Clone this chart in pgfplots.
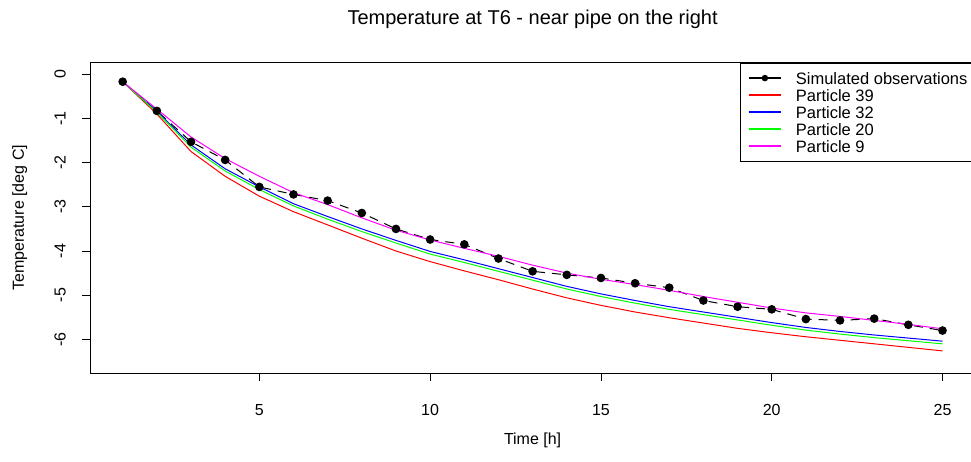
\documentclass[border=0pt]{standalone}
\usepackage{pgfplots}
\pgfplotsset{compat=1.18}
\usepackage{fontspec}
\setmainfont{Liberation Sans}
\definecolor{rred}{RGB}{255,0,0}
\definecolor{rblue}{RGB}{0,0,255}
\definecolor{rgreen}{RGB}{0,255,0}
\definecolor{rmag}{RGB}{255,0,255}
\begin{document}
\begin{tikzpicture}
\begin{axis}[
  at={(89.9pt,-62.7pt)}, anchor=north west,
  scale only axis, width=885.4pt, height=310.3pt,
  xmin=0.04, xmax=25.96, ymin=-6.76, ymax=0.26,
  xtick={5,10,15,20,25}, ytick={-6,-5,-4,-3,-2,-1,0},
  tick pos=left, tick align=outside, major tick length=8pt,
  every tick/.style={black, line width=0.8pt},
  axis line style={black, line width=0.8pt},
  /pgf/number format/assume math mode=true,
  tick label style={font=\fontsize{16}{16}\selectfont},
  xticklabel style={anchor=north, inner sep=0pt},
  xticklabel shift=23pt,
  yticklabel style={rotate=90, anchor=south, inner sep=0pt},
  yticklabel shift=16pt,
  xlabel={Time [h]},
  ylabel={Temperature [deg C]},
  label style={font=\fontsize{16}{16}\selectfont},
  xlabel style={at={(axis description cs:0.5,0)}, anchor=center, yshift=-67pt},
  ylabel style={at={(axis description cs:-0.0791,0.5)}, anchor=center},
  title={Temperature at T6 - near pipe on the right},
  title style={font=\fontsize{20}{20}\selectfont, at={(axis description cs:0.5,1)}, anchor=center, yshift=37pt},
  legend image code/.code={\draw[mark repeat=2,mark phase=2,#1,line width=2pt] plot coordinates {(0pt,0pt) (16pt,0pt) (32pt,0pt)};},
  legend cell align=left,
  legend style={at={(rel axis cs:1,1)}, anchor=north east, draw=black, line width=0.8pt, fill=white,
    font=\fontsize{16.5}{16.5}\selectfont, inner xsep=7.5pt, inner ysep=6.5pt, row sep=0pt, column sep=14pt,
    nodes={inner sep=0pt, text height=15pt, text depth=2pt}},
]
\addlegendimage{black, solid, mark=*, mark size=2.2pt}
\addlegendentry{Simulated observations}
\addplot[forget plot, black, line width=1pt, dash pattern=on 9pt off 7pt, mark=*, mark size=3.8pt, mark options={solid, fill=black}] coordinates {
(1,-0.17) (2,-0.83) (3,-1.53) (4,-1.94) (5,-2.55) (6,-2.72) (7,-2.86) (8,-3.14) (9,-3.50) (10,-3.74)
(11,-3.85) (12,-4.17) (13,-4.46) (14,-4.54) (15,-4.61) (16,-4.73) (17,-4.83) (18,-5.12) (19,-5.26) (20,-5.32)
(21,-5.54) (22,-5.57) (23,-5.53) (24,-5.67) (25,-5.80)};
\addplot[rred, line width=1pt] coordinates {
(1,-0.17) (2,-0.90) (3,-1.75) (4,-2.31) (5,-2.76) (6,-3.11) (7,-3.41) (8,-3.71) (9,-4.00) (10,-4.24)
(11,-4.45) (12,-4.65) (13,-4.86) (14,-5.06) (15,-5.23) (16,-5.38) (17,-5.51) (18,-5.63) (19,-5.75) (20,-5.85)
(21,-5.94) (22,-6.02) (23,-6.10) (24,-6.18) (25,-6.26)};
\addlegendentry{Particle 39}
\addplot[rblue, line width=1pt] coordinates {
(1,-0.17) (2,-0.84) (3,-1.60) (4,-2.14) (5,-2.55) (6,-2.93) (7,-3.22) (8,-3.50) (9,-3.76) (10,-4.01)
(11,-4.20) (12,-4.40) (13,-4.60) (14,-4.80) (15,-4.97) (16,-5.12) (17,-5.26) (18,-5.38) (19,-5.50) (20,-5.62)
(21,-5.73) (22,-5.82) (23,-5.90) (24,-5.97) (25,-6.04)};
\addlegendentry{Particle 32}
\addplot[rgreen, line width=1pt] coordinates {
(1,-0.17) (2,-0.86) (3,-1.65) (4,-2.19) (5,-2.61) (6,-2.98) (7,-3.28) (8,-3.56) (9,-3.82) (10,-4.07)
(11,-4.26) (12,-4.46) (13,-4.66) (14,-4.86) (15,-5.03) (16,-5.18) (17,-5.32) (18,-5.44) (19,-5.56) (20,-5.68)
(21,-5.79) (22,-5.88) (23,-5.96) (24,-6.03) (25,-6.10)};
\addlegendentry{Particle 20}
\addplot[rmag, line width=1pt] coordinates {
(1,-0.17) (2,-0.79) (3,-1.42) (4,-1.91) (5,-2.31) (6,-2.68) (7,-2.95) (8,-3.25) (9,-3.53) (10,-3.75)
(11,-3.94) (12,-4.12) (13,-4.32) (14,-4.50) (15,-4.64) (16,-4.76) (17,-4.89) (18,-5.03) (19,-5.16) (20,-5.29)
(21,-5.40) (22,-5.48) (23,-5.57) (24,-5.66) (25,-5.76)};
\addlegendentry{Particle 9}
\end{axis}
\pgfresetboundingbox
\path[use as bounding box] (0pt,0pt) rectangle (971pt,-462pt);
\end{tikzpicture}
\end{document}
